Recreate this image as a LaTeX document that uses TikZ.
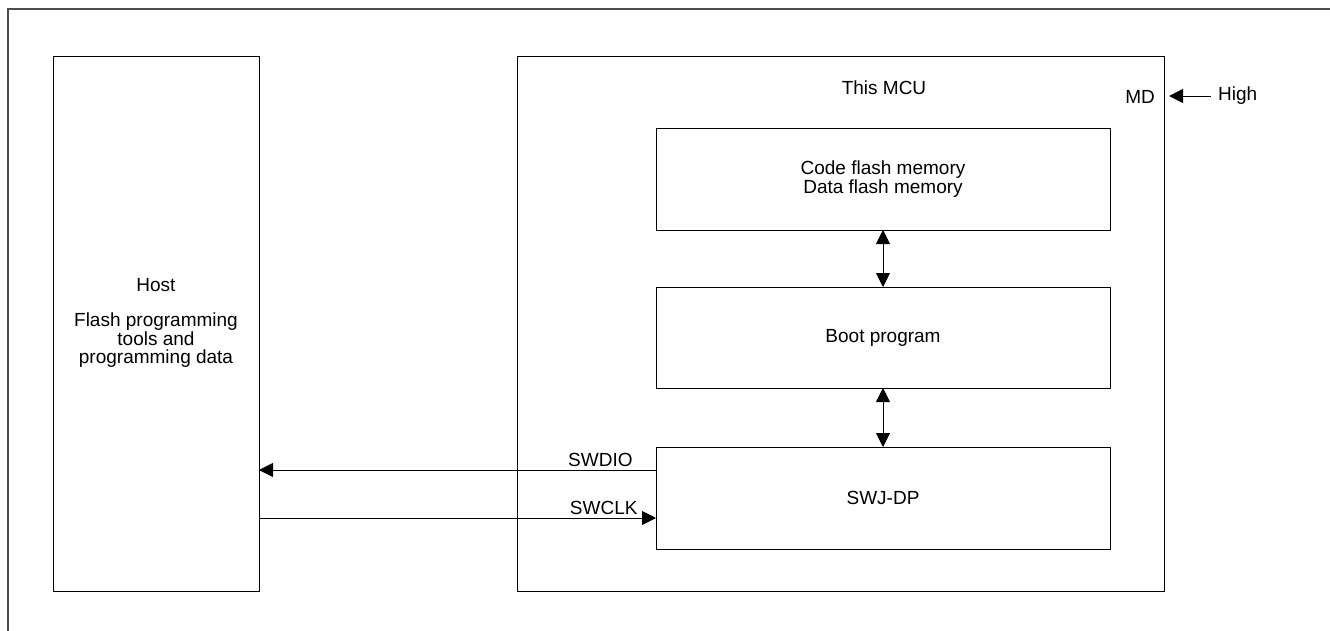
\documentclass[tikz,border=0pt]{standalone}
\usepackage{fontspec}
\setmainfont{Liberation Sans}
\usetikzlibrary{arrows.meta,calc}
\begin{document}
\begin{tikzpicture}[x=1pt,y=-1pt,
  box/.style={draw=black,line width=0.9pt,inner sep=0pt,outer sep=0pt,rectangle},
  lbl/.style={inner sep=0pt,font=\fontsize{19}{17.5}\selectfont,align=center},
  tip/.style={Triangle[length=14pt,width=14pt]},
  arr/.style={line width=0.9pt,-{Triangle[length=14pt,width=14pt]}},
  darr/.style={line width=0.9pt,{Triangle[length=14pt,width=14pt]}-{Triangle[length=14pt,width=14pt]}},
  frame/.style={draw=black!70,line width=1.3pt}]
\useasboundingbox (0,0) rectangle (1330,630);
% outer frame (top and left edges)
\coordinate (ftl) at (8,9);
\coordinate (ftr) at (1331,9);
\coordinate (fbl) at (8,631);
\draw[frame] (fbl) -- (ftl) -- (ftr);
% boxes
\node[box,minimum width=206pt,minimum height=535pt] (host) at (156,323.5) {};
\node[box,minimum width=647pt,minimum height=535pt] (mcu) at (840.5,323.5) {};
\node[box,minimum width=454pt,minimum height=102pt] (code) at (883,179) {};
\node[box,minimum width=454pt,minimum height=101pt] (boot) at (883,337.5) {};
\node[box,minimum width=454pt,minimum height=102pt] (swj) at (883,498) {};
% texts
\node[lbl] (hosttitle) at (156,285) {Host};
\node[lbl] (hosttext) at (156,340) {Flash programming\\tools and\\programming data};
\node[lbl] (mcutitle) at (884,88) {This MCU};
\node[lbl] (codetext) at (code.center) {Code flash memory\\Data flash memory};
\node[lbl] (boottext) at (boot.center) {Boot program};
\node[lbl] (swjtext) at (swj.center) {SWJ-DP};
% MD pin
\node[lbl,anchor=east] (md) at (1155,97) {MD};
\node[lbl,inner xsep=7pt,anchor=west] (high) at (1211,96) {High};
\coordinate (mdpin) at ([xshift=5pt]mcu.east |- high.west);
\draw[arr] (high.west) -- (mdpin);
% vertical arrows
\draw[darr] (code.south) -- (boot.north);
\draw[darr] (boot.south) -- (swj.north);
% signals
\coordinate (sdio) at ([yshift=-23pt]swj.north west);
\coordinate (sclk) at ([yshift=-71pt]swj.north west);
\draw[arr] (sdio) -- (host.east |- sdio) node[pos=0,lbl,anchor=south east,xshift=-23pt,yshift=3pt] (swdiolbl) {SWDIO};
\draw[arr] (host.east |- sclk) -- (sclk) node[pos=1,lbl,anchor=south east,xshift=-18pt,yshift=3pt] (swclklbl) {SWCLK};
\end{tikzpicture}
\end{document}
